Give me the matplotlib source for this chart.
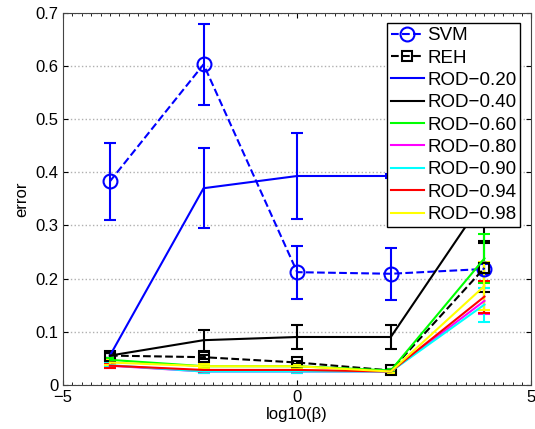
import numpy as np
import matplotlib
matplotlib.use('Agg')
import matplotlib.pyplot as plt
from matplotlib.ticker import MultipleLocator

plt.rcParams['font.family'] = ['Liberation Sans', 'DejaVu Sans']

# data
beta = [-4, -2, 0, 2, 4]
names = ['SVM', 'REH', 'ROD\u22120.20', 'ROD\u22120.40', 'ROD\u22120.60',
         'ROD\u22120.80', 'ROD\u22120.90', 'ROD\u22120.94', 'ROD\u22120.98']
svm = [0.383, 0.603, 0.212, 0.209, 0.218]
svm_err = [0.072, 0.076, 0.050, 0.049, 0.010]
reh = [0.055, 0.052, 0.042, 0.027, 0.220]
reh_err = [0.004, 0.004, 0.003, 0.002, 0.046]
rod20 = [0.055, 0.370, 0.393, 0.393, 0.393]
rod20_err = [0.004, 0.075, 0.080, 0.003, 0.040]
rod40 = [0.055, 0.084, 0.090, 0.090, 0.350]
rod40_err = [0.004, 0.020, 0.022, 0.022, 0.080]
rod60 = [0.047, 0.035, 0.035, 0.027, 0.238]
rod60_err = [0.004, 0.004, 0.003, 0.002, 0.046]
rod80 = [0.036, 0.025, 0.025, 0.025, 0.158]
rod80_err = [0.004, 0.003, 0.003, 0.002, 0.024]
rod90 = [0.037, 0.025, 0.025, 0.025, 0.151]
rod90_err = [0.004, 0.003, 0.003, 0.002, 0.032]
rod94 = [0.036, 0.028, 0.028, 0.025, 0.166]
rod94_err = [0.004, 0.003, 0.003, 0.002, 0.030]
rod98 = [0.042, 0.035, 0.035, 0.025, 0.186]
rod98_err = [0.004, 0.004, 0.003, 0.002, 0.045]

fig = plt.figure(figsize=(5.35, 4.29), dpi=100)
ax = fig.add_axes([0.118, 0.103, 0.875, 0.867])

kw = dict(capsize=4, elinewidth=1.5, capthick=1.5, lw=1.5)
handles = []
h = ax.errorbar(beta, svm, yerr=svm_err, color='b', ls='--', marker='o',
                mfc='none', ms=10, mew=1.5, **kw)
handles.append(h[0])
h = ax.errorbar(beta, reh, yerr=reh_err, color='k', ls='--', marker='s',
                mfc='none', ms=7, mew=1.5, **kw)
handles.append(h[0])
rods = [(rod20, rod20_err, 'b'), (rod40, rod40_err, 'k'),
        (rod60, rod60_err, '#00ff00'), (rod80, rod80_err, '#ff00ff'),
        (rod90, rod90_err, '#00ffff'), (rod94, rod94_err, 'r'),
        (rod98, rod98_err, '#ffff00')]
for v, e, c in rods:
    h = ax.errorbar(beta, v, yerr=e, color=c, **kw)
    handles.append(h[0])

ax.set_xlim(-5, 5)
ax.set_ylim(0, 0.7)
ax.set_xticks([-5, 0, 5])
ax.set_xticklabels(['\u22125', '0', '5'])
ax.set_yticks(np.arange(0, 0.71, 0.1))
ax.set_yticklabels(['0', '0.1', '0.2', '0.3', '0.4', '0.5', '0.6', '0.7'])
ax.xaxis.set_minor_locator(MultipleLocator(0.2))
ax.tick_params(direction='in', which='both', top=True, right=True,
               labelsize=12, colors='k')
ax.tick_params(which='minor', length=2)
ax.yaxis.grid(True, ls=':', color='#b0b0b0', lw=1)
for s in ax.spines.values():
    s.set_color('#444444')
ax.set_xlabel(u'log10(\u03b2)', fontsize=12, labelpad=2)
ax.set_ylabel('error', fontsize=12, labelpad=4)

leg = ax.legend(handles, names, loc='upper right',
                bbox_to_anchor=(0.977, 0.972), fontsize=13.5,
                fancybox=False, framealpha=1, edgecolor='k', borderpad=0.2,
                labelspacing=0.28, handlelength=1.75, handletextpad=0.2,
                borderaxespad=0)
leg.get_frame().set_linewidth(1.0)

fig.savefig('out.png')
